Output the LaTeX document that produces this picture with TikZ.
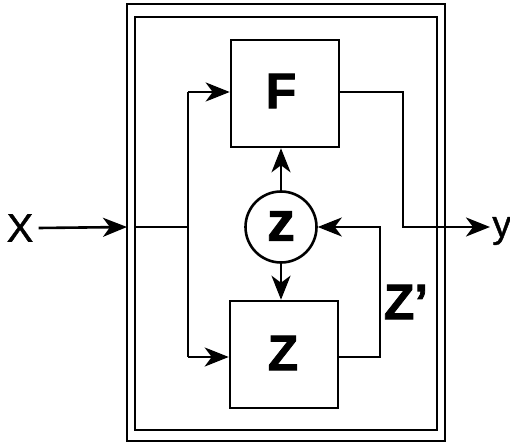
\documentclass[tikz,border=0pt]{standalone}
\usepackage{fontspec}
\setmainfont{Liberation Sans}
\newfontfamily\heavy[UprightFeatures={FakeBold=1.5}]{Liberation Sans Bold}
\newfontfamily\medium[UprightFeatures={FakeBold=1}]{Liberation Sans}
\usetikzlibrary{arrows.meta}
\begin{document}
\begin{tikzpicture}[x=1pt,y=-1pt,line width=2.6pt,
  blk/.style={draw,rectangle,minimum width=108pt,minimum height=107pt,inner sep=0pt},
  circ/.style={draw,circle,minimum size=71pt,inner sep=0pt},
  lbl/.style={inner sep=0pt},
  arr/.style={-{Stealth[length=24pt,width=19pt,inset=7pt]}},
  frame/.style={draw,line width=2.8pt}]
\useasboundingbox (0,0) rectangle (510,443);
% frames
\draw[frame] (127,4) rectangle (445,441);
\draw[frame] (135,17) rectangle (437,430);
% blocks
\node[blk] (F) at (285,93.5) {};
\node[lbl,font=\heavy\fontsize{50}{50}\selectfont] (Ft) at (281,91) {F};
\node[blk] (Z) at (284,354.5) {};
\node[lbl,font=\heavy\fontsize{50}{50}\selectfont] (Zt) at (283,353) {Z};
\node[circ] (zc) at (281,227) {};
\node[lbl,font=\heavy\fontsize{56}{56}\selectfont] (zt) at (281,226) {z};
% labels
\node[lbl,font=\medium\fontsize{40}{40}\selectfont] (X) at (20,228) {X};
\node[lbl,anchor=west,font=\medium\fontsize{38}{38}\selectfont] (Y) at (491,231) {y};
\node[lbl,font=\heavy\fontsize{50}{50}\selectfont] (Zp) at (406,302) {Z’};
% coordinates
\coordinate (xin) at (127,227);
\coordinate (il) at (135,227);
\coordinate (j) at (188,227);
\coordinate (bt) at (188,92);
\coordinate (bb) at (188,357);
\coordinate (fo) at (403,92);
\coordinate (fo2) at (403,227);
\coordinate (yo) at (490,227);
\coordinate (zo) at (380,357);
\coordinate (zo2) at (380,227);
% connectors
\draw[arr] (X.east) ++(4,0) -- (xin);
\draw (il) -- (j);
\draw (bt) -- (bb);
\draw[arr] (bt) -- (F.west |- bt);
\draw[arr] (bb) -- (Z.west |- bb);
\draw[arr] (zc.north) -- (F.south -| zc.north);
\draw[arr] (zc.south) -- (Z.north -| zc.south);
\draw[arr] (F.east |- fo) -- (fo) -- (fo2) -- (yo);
\draw[arr] (Z.east |- zo) -- (zo) -- (zo2) -- (zc.east);
\end{tikzpicture}
\end{document}
